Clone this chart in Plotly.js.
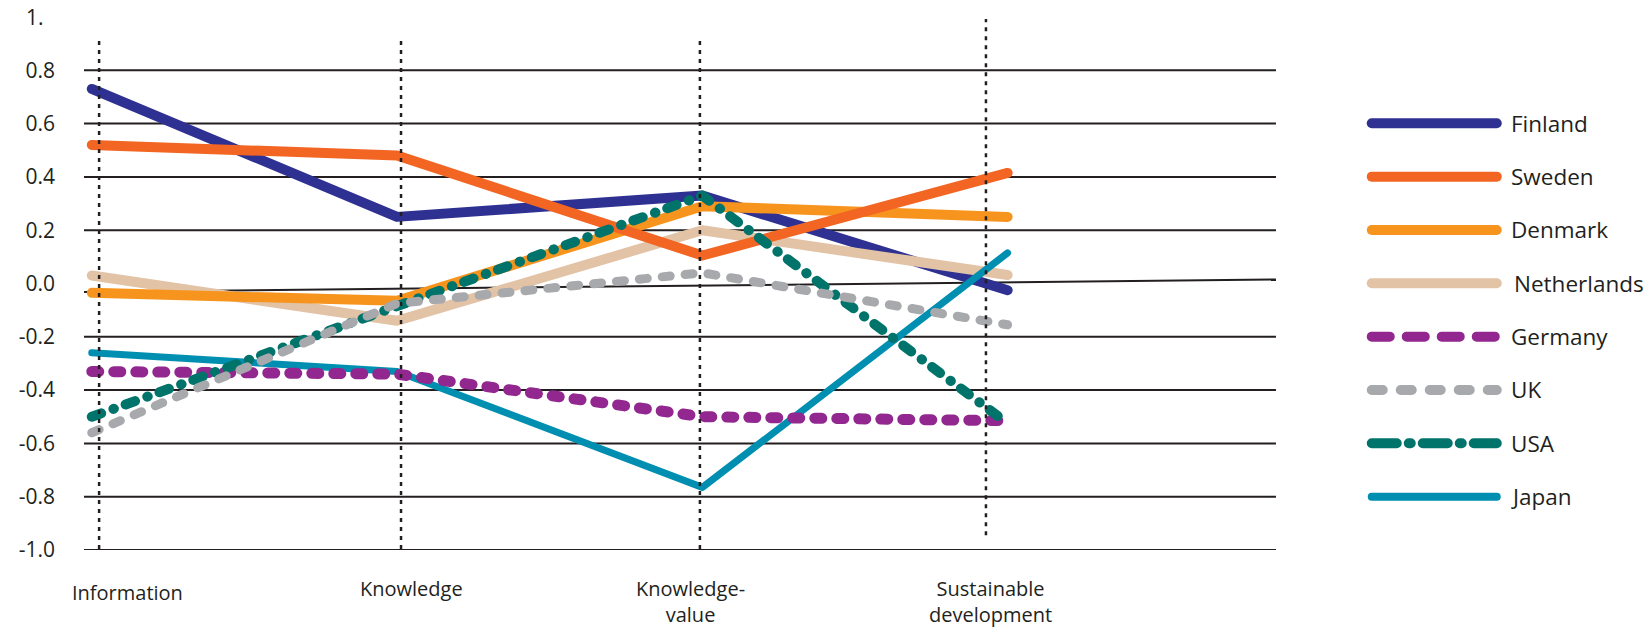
<!DOCTYPE html>
<html>
<head>
<meta charset="utf-8">
<script src="https://cdn.plot.ly/plotly-3.0.1.min.js"></script>
<style>
  html, body { margin: 0; padding: 0; background: #ffffff; }
  #chart { width: 1649px; height: 629px; }
</style>
</head>
<body>
<div id="chart"></div>
<script>
// Categories along the horizontal axis
const categories = ['Information', 'Knowledge', 'Knowledge-value', 'Sustainable development'];
const categoryLabels = ['Information', 'Knowledge', 'Knowledge-<br>value', 'Sustainable<br>development'];

// Countries, in legend order
const countries = ['Finland', 'Sweden', 'Denmark', 'Netherlands', 'Germany', 'UK', 'USA', 'Japan'];

// Scores per category
const finland     = [0.73, 0.25, 0.33, -0.025];
const sweden      = [0.52, 0.48, 0.105, 0.415];
const denmark     = [-0.035, -0.065, 0.29, 0.25];
const netherlands = [0.03, -0.14, 0.20, 0.032];
const germany     = [-0.33, -0.34, -0.50, -0.515];
const uk          = [-0.56, -0.075, 0.04, -0.155];
const usa         = [-0.50, -0.085, 0.33, -0.525];
const japan       = [-0.26, -0.33, -0.765, 0.115];

// Vertical axis ticks
const yTickValues = [-1.0, -0.8, -0.6, -0.4, -0.2, 0.0, 0.2, 0.4, 0.6, 0.8];
const yTickLabels = ['-1.0', '-0.8', '-0.6', '-0.4', '-0.2', '0.0', '0.2', '0.4', '0.6', '0.8'];

const seriesValues = {
  Finland: finland, Sweden: sweden, Denmark: denmark, Netherlands: netherlands,
  Germany: germany, UK: uk, USA: usa, Japan: japan
};

// Line styles
const styles = {
  Finland:     { color: '#2e3192', width: 10, dash: 'solid', legendDash: 'solid', legendWidth: 10 },
  Sweden:      { color: '#f26522', width: 10, dash: 'solid', legendDash: 'solid', legendWidth: 10 },
  Denmark:     { color: '#f7941d', width: 10, dash: 'solid', legendDash: 'solid', legendWidth: 10 },
  Netherlands: { color: '#e2c3a6', width: 10, dash: 'solid', legendDash: 'solid', legendWidth: 10 },
  Germany:     { color: '#92278f', width: 11, dash: '7px,15px', legendDash: '18px,17px', legendWidth: 10 },
  UK:          { color: '#a7a9ac', width: 9, dash: '8px,15px', legendDash: '11px,18px', legendWidth: 10 },
  USA:         { color: '#00736b', width: 10, dash: '10px,13px,0.5px,12.5px', legendDash: '25px,12px,2px,12px', legendWidth: 10 },
  Japan:       { color: '#008fb0', width: 7, dash: 'solid', legendDash: 'solid', legendWidth: 8 }
};

// Stacking order of the lines (first is drawn underneath)
const drawOrder = ['Finland', 'Netherlands', 'Denmark', 'Sweden', 'Japan', 'Germany', 'USA', 'UK'];

const ink = '#231f20';
const font = 'Open Sans, Noto Sans, sans-serif';

const traces = [];
drawOrder.forEach(name => {
  const s = styles[name];
  traces.push({
    type: 'scatter', mode: 'lines', name: name,
    x: categories, y: seriesValues[name],
    xaxis: 'x', yaxis: 'y',
    line: { color: s.color, width: s.width, dash: s.dash },
    hoverinfo: 'skip', showlegend: false
  });
});

// Legend swatches, drawn on their own small axis pair to the right
countries.forEach((name, i) => {
  const s = styles[name];
  traces.push({
    type: 'scatter', mode: 'lines', name: name + ' key',
    x: [0, 1], y: [i, i],
    xaxis: 'x2', yaxis: 'y2',
    line: { color: s.color, width: s.legendWidth, dash: s.legendDash },
    hoverinfo: 'skip', showlegend: false
  });
});

const shapes = [];
// Horizontal rules (the zero rule is drawn separately, slightly slanted)
yTickValues.filter(v => v !== 0).forEach(v => {
  shapes.push({
    type: 'line', layer: 'below', xref: 'x domain', yref: 'y',
    x0: 0, x1: 1, y0: v, y1: v,
    line: { color: ink, width: 2 }
  });
});
shapes.push({
  type: 'line', layer: 'below', xref: 'x domain', yref: 'y',
  x0: 0, x1: 1, y0: -0.032, y1: 0.015,
  line: { color: ink, width: 2 }
});

// Dotted vertical guides for each category
const guideX = [0.024, 1.013, 1.992, 2.929];
const guideTop = [0.925, 0.925, 0.925, 0.9925];
const guideBottom = [-0.996, -0.996, -0.996, -0.945];
guideX.forEach((gx, i) => {
  shapes.push({
    type: 'line', layer: 'above', xref: 'x', yref: 'y',
    x0: gx, x1: gx, y0: guideBottom[i], y1: guideTop[i],
    line: { color: ink, width: 2.5, dash: '4px,5px' }
  });
});

const annotations = [];
// Category labels under the plot
const labelShiftX = [36, 14, -12, -17];
const labelShiftY = [-27, -23, -23, -23];
categoryLabels.forEach((t, i) => {
  annotations.push({
    xref: 'x', yref: 'paper', x: i, y: 0,
    xanchor: 'center', yanchor: 'top',
    xshift: labelShiftX[i], yshift: labelShiftY[i],
    text: t, showarrow: false, align: 'center',
    font: { family: font, size: 20, color: ink }
  });
});
// Top value label
annotations.push({
  xref: 'paper', yref: 'y', x: 0, y: 1.0,
  xanchor: 'left', yanchor: 'middle', xshift: -60,
  text: '1.', showarrow: false,
  font: { family: font, size: 21, color: ink }
});
// Legend names
countries.forEach((name, i) => {
  annotations.push({
    xref: 'x2', yref: 'y2', x: 1, y: i,
    xanchor: 'left', yanchor: 'middle', xshift: name === 'Netherlands' ? 15 : 12,
    text: name, showarrow: false,
    font: { family: font, size: 22.5, color: ink }
  });
});

const layout = {
  width: 1649, height: 629,
  margin: { l: 84, r: 20, t: 17, b: 79 },
  paper_bgcolor: '#ffffff', plot_bgcolor: '#ffffff',
  font: { family: font, color: ink },
  showlegend: false,
  xaxis: {
    domain: [0, 0.7715], type: 'category', range: [-0.0255, 3.879],
    showgrid: false, zeroline: false, showline: false, showticklabels: false, ticks: ''
  },
  yaxis: {
    domain: [0, 1], range: [-1.0, 1.0],
    tickvals: yTickValues, ticktext: yTickLabels,
    showgrid: false, zeroline: false, showline: false, ticks: '',
    ticklabelstandoff: 28,
    tickfont: { family: font, size: 21, color: ink }
  },
  xaxis2: {
    domain: [0.8254, 0.9225], range: [-0.1, 1.1], anchor: 'y2',
    visible: false, fixedrange: true
  },
  yaxis2: {
    domain: [0, 1], range: [8.0, -1.993], anchor: 'x2',
    visible: false, fixedrange: true
  },
  shapes: shapes,
  annotations: annotations
};

Plotly.newPlot('chart', traces, layout, { staticPlot: true, displayModeBar: false }).then(gd => {
  gd.querySelectorAll('.scatterlayer path.js-line').forEach(p => {
    p.style.strokeLinecap = 'round';
    p.style.strokeLinejoin = 'round';
  });
});
</script>
</body>
</html>
